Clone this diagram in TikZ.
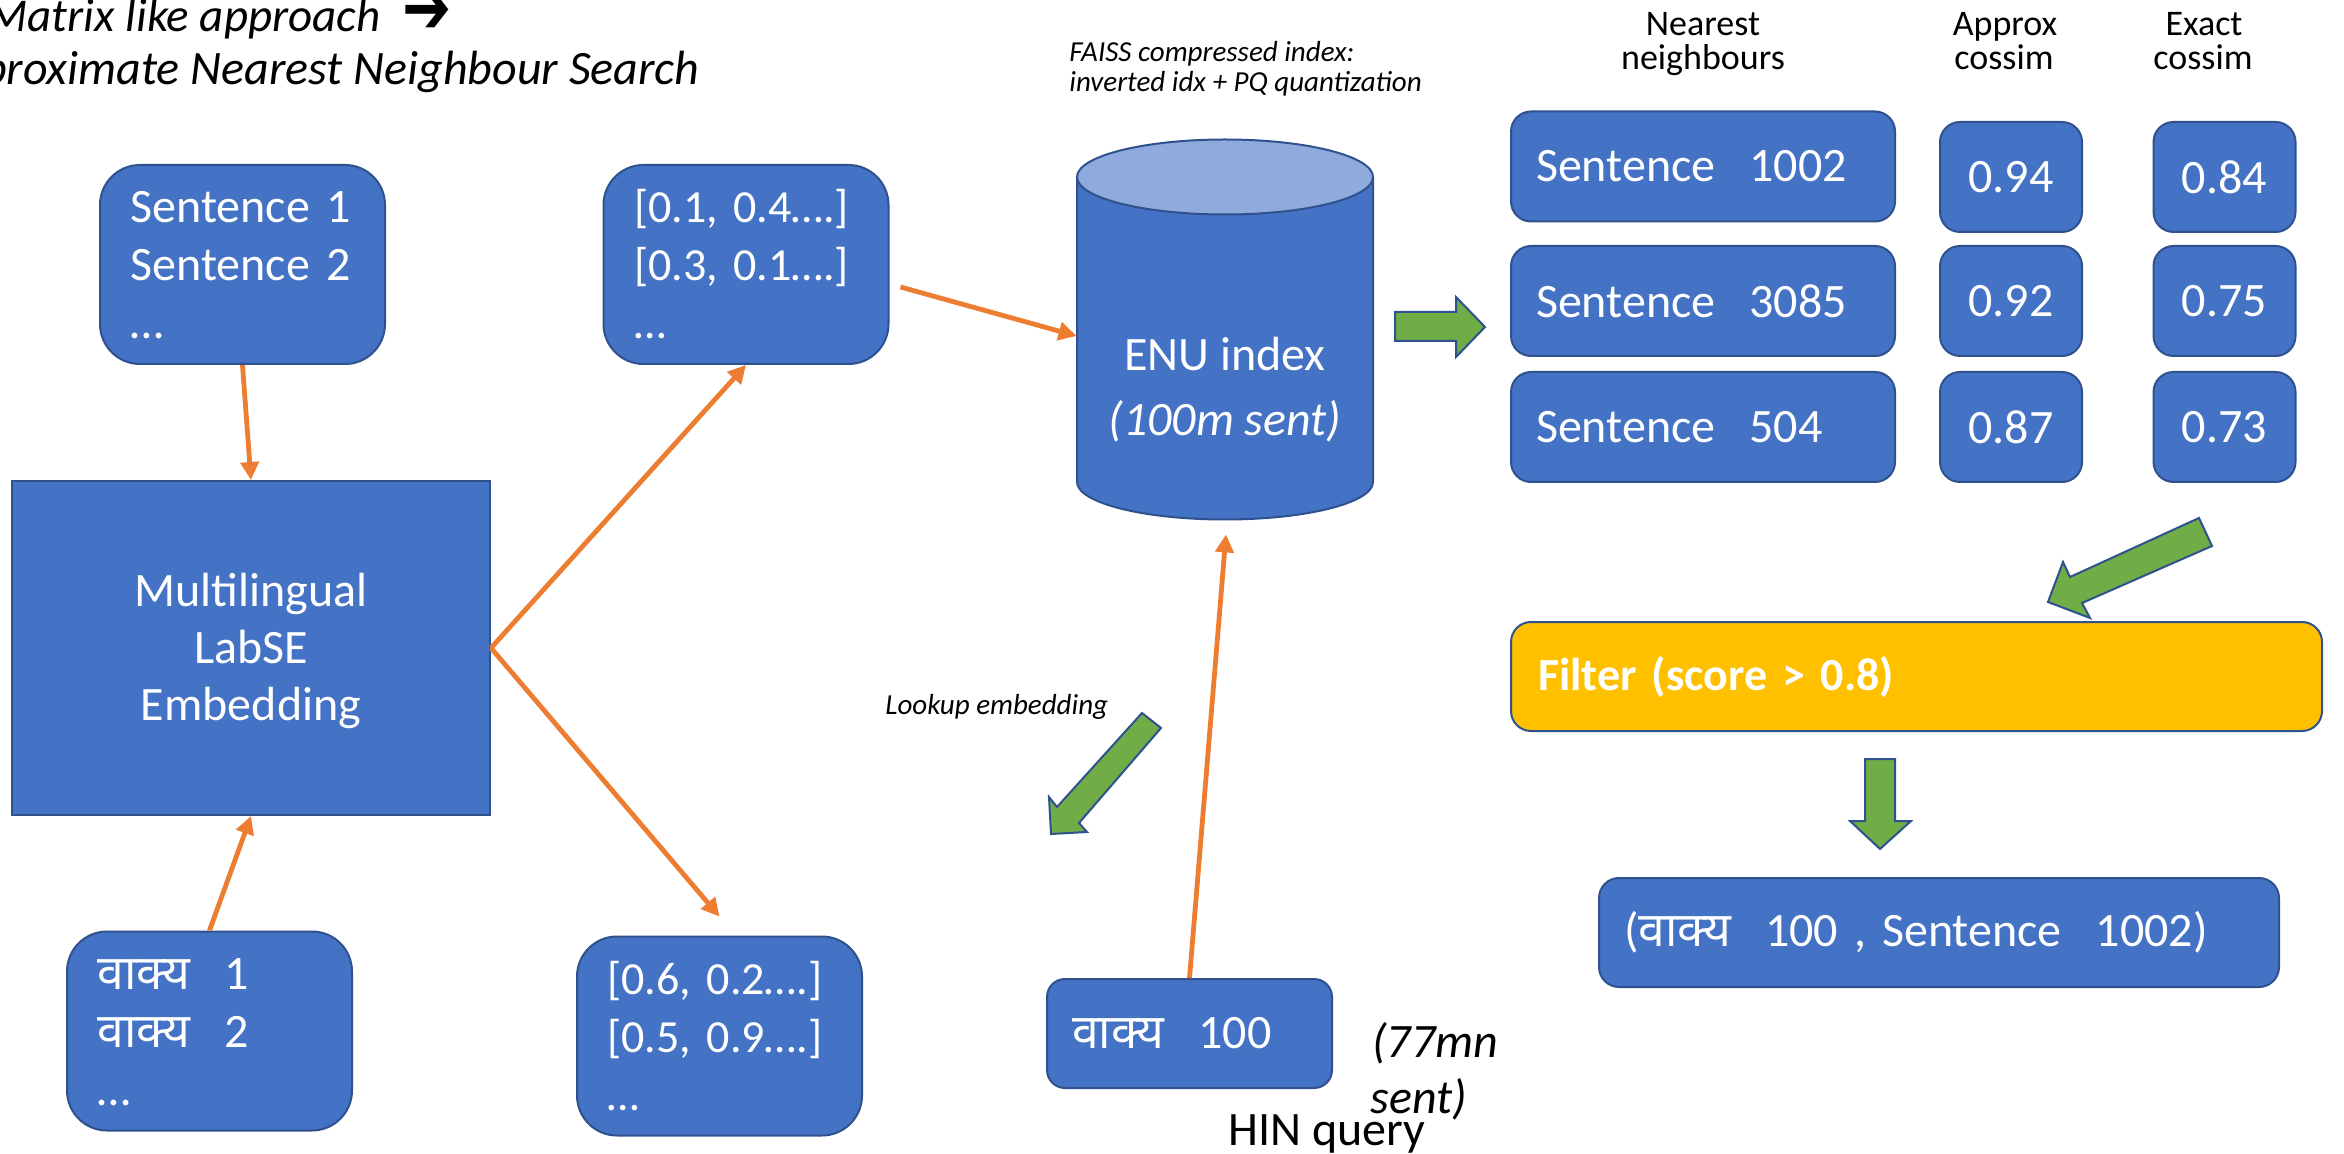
\documentclass[tikz,border=0pt]{standalone}
\usepackage{fontspec}
\setmainfont{Carlito}
\newfontfamily\devfont[Script=Devanagari]{Noto Sans}
\newfontfamily\symfont{DejaVu Sans}
\usetikzlibrary{arrows.meta,calc}

\definecolor{boxblue}{HTML}{4472C4}
\definecolor{boxedge}{HTML}{2F528F}
\definecolor{orangeline}{HTML}{ED7D31}
\definecolor{arrowgreen}{HTML}{70AD47}
\definecolor{filtergold}{HTML}{FFC000}
\definecolor{cyltop}{HTML}{8FAADC}

\newcommand\fsmain{\fontsize{24pt}{29pt}\selectfont}
\newcommand\fsnote{\fontsize{14.5pt}{17pt}\selectfont}
\newcommand\fshead{\fontsize{18pt}{21.5pt}\selectfont}
\newcommand\vakya{{\devfont वाक्य}}
\newcommand\gap{\hspace{17pt}}
% fixed line extents so that three-line lists sit at the same height in every box
\newcommand\topstrut{\rule{0pt}{18.5pt}}
\newcommand\botstrut{\rule[-2pt]{0pt}{2pt}}

\begin{document}
\begin{tikzpicture}[x=0.5pt,y=-0.5pt,
  bluebox/.style={draw=boxedge, fill=boxblue, line width=1pt, text=white,
    font=\fsmain, inner sep=0pt},
  listbox/.style={bluebox, rounded corners=20pt, minimum width=142.5pt,
    minimum height=99.5pt, text width=112pt, align=left},
  rowbox/.style={bluebox, rounded corners=10pt, minimum width=192pt,
    minimum height=55pt, text width=167pt, align=left},
  scorebox/.style={bluebox, rounded corners=10pt, minimum width=71pt,
    minimum height=55pt, align=center},
  orangeconn/.style={draw=orangeline, line width=2.4pt,
    -{Triangle[length=9pt,width=9pt]}},
  blockarrow/.style={fill=arrowgreen, draw=boxedge, line width=1pt, line join=miter},
  plainlabel/.style={inner sep=0pt, text=black},
]
\useasboundingbox (0,0) rectangle (2344,1154);
\clip (0,0) rectangle (2344,1154);
\fill[white] (0,0) rectangle (2344,1154);

% heading
\node[plainlabel, anchor=base east, font=\fontsize{23.5pt}{29pt}\selectfont\itshape] (title1) at (381,32) {Matrix like approach};
\node[plainlabel, anchor=south west, font=\fontsize{28pt}{29pt}\symfont] (titlearrow) at (402,34) {\scalebox{1.05}[1.35]{➔}};
\node[plainlabel, anchor=base east, font=\fsmain\itshape] (title2) at (700,85) {proximate Nearest Neighbour Search};

% input sentences, encoder and embeddings
\node[listbox] (sent) at (242.5,264.5) {\topstrut Sentence 1\\Sentence 2\\…\botstrut};
\node[bluebox, minimum width=239pt, minimum height=167pt, align=center,
      font=\fontsize{24pt}{28.5pt}\selectfont] (ml) at (251,648)
      {\rule{0pt}{20.5pt}Multilingual\\LabSE\\Embedding\rule[-5.5pt]{0pt}{5.5pt}};
\node[listbox] (vakya) at (209.5,1031) {\topstrut\vakya\gap 1\\\vakya\gap 2\\…\botstrut};
\node[listbox, font=\fontsize{23pt}{29pt}\selectfont] (vec1) at (746,264.5)
      {\topstrut\mbox{[0.1, 0.4….]}\\\mbox{[0.3, 0.1….]}\\…\botstrut};
\node[listbox, font=\fontsize{23pt}{29pt}\selectfont] (vec2) at (719.5,1036)
      {\topstrut\mbox{[0.6, 0.2….]}\\\mbox{[0.5, 0.9….]}\\…\botstrut};

% index cylinder
\fill[boxblue] (1077,177) -- (1077,482)
  arc[start angle=180, end angle=360, x radius=74pt, y radius=18.75pt] -- (1373,177) -- cycle;
\draw[boxedge, line width=1pt] (1077,177) -- (1077,482)
  arc[start angle=180, end angle=360, x radius=74pt, y radius=18.75pt] -- (1373,177);
\draw[fill=cyltop, draw=boxedge, line width=1pt] (1225,177) ellipse[x radius=74pt, y radius=18.75pt];
\node[inner sep=0pt, minimum width=148pt, minimum height=190pt] (enu) at (1225,330) {};
\node[plainlabel, text=white, align=center, font=\fontsize{24pt}{32.5pt}\selectfont] (enutext) at (1225,390)
  {ENU index\\\textit{(100m sent)}};
\node[plainlabel, anchor=base west, font=\fsnote\itshape] (faiss1) at (1069,62) {FAISS compressed index:};
\node[plainlabel, anchor=base west, font=\fsnote\itshape] (faiss2) at (1069,92) {inverted idx + PQ quantization};

% query
\node[bluebox, rounded corners=9pt, minimum width=142.5pt, minimum height=54.5pt,
      text width=117.5pt, align=left] (q100) at (1189.5,1033.5) {\vakya\gap 100};
\node[plainlabel, anchor=base west, font=\fsmain\itshape] (mn1) at (1372,1057) {(77mn};
\node[plainlabel, anchor=base west, font=\fsmain\itshape] (mn2) at (1370,1113) {sent)};
\node[plainlabel, anchor=base west, font=\fsmain] (hin) at (1228,1145) {HIN query};
\node[plainlabel, anchor=west, font=\fsnote\itshape] (lookup) at (885,707) {Lookup embedding};

% neighbour table
\node[plainlabel, anchor=base, font=\fshead] (hn1) at (1703,36) {Nearest};
\node[plainlabel, anchor=base, font=\fshead] (hn2) at (1703,70) {neighbours};
\node[plainlabel, anchor=base, font=\fshead] (ha1) at (2005,36) {Approx};
\node[plainlabel, anchor=base, font=\fshead] (ha2) at (2004,70) {cossim};
\node[plainlabel, anchor=base, font=\fshead] (he1) at (2204,36) {Exact};
\node[plainlabel, anchor=base, font=\fshead] (he2) at (2203,70) {cossim};

\node[rowbox] (s1002) at (1703,166.5) {Sentence\gap 1002};
\node[rowbox] (s3085) at (1703,301) {Sentence\gap 3085};
\node[rowbox] (s504) at (1703,427) {Sentence\gap 504};
\node[scorebox] (a1) at (2011,177) {0.94};
\node[scorebox] (a2) at (2011,301) {0.92};
\node[scorebox] (a3) at (2011,427) {0.87};
\node[scorebox] (e1) at (2224.5,177) {0.84};
\node[scorebox] (e2) at (2224.5,301) {0.75};
\node[scorebox] (e3) at (2224.5,427) {0.73};

% filter and result
\node[bluebox, fill=filtergold, rounded corners=10pt, minimum width=405.5pt, minimum height=54.5pt,
      text width=378.5pt, align=left, font=\fontsize{23pt}{28pt}\selectfont\bfseries] (filter) at (1916.5,676.5) {Filter (score > 0.8)};
\node[bluebox, rounded corners=10pt, minimum width=340pt, minimum height=54.5pt,
      text width=315pt, align=left] (result) at (1939,932.5)
      {(\vakya\gap 100 , Sentence\gap 1002)};

% connectors
\coordinate (vec2in) at ($(vec2.north)+(0,-19)$);
\coordinate (vec1out) at ($(vec1.east)+(11,22.5)$);
\coordinate (enuin) at ($(enu.west)+(0,6)$);
\coordinate (enubottom) at ($(enu.south)+(1,14)$);
\draw[orangeconn] (sent.south) -- (ml.north);
\draw[orangeconn] (vakya.north) -- (ml.south);
\draw[orangeconn] (ml.east) -- (vec1.south);
\draw[orangeconn] (ml.east) -- (vec2in);
\draw[orangeconn] (vec1out) -- (enuin);
\draw[orangeconn] (q100.north) -- (enubottom);

% block arrows
\draw[blockarrow] (1395,312) -- (1456,312) -- (1456,297) -- (1485,327) -- (1456,357) -- (1456,341) -- (1395,341) -- cycle;
\draw[blockarrow] (1865,759) -- (1895,759) -- (1895,821) -- (1911,821) -- (1880,849) -- (1850,821) -- (1865,821) -- cycle;
\draw[blockarrow] (1142,713) -- (1057,807) -- (1049,797) -- (1051,834) -- (1087,832) -- (1079,823) -- (1161,728) -- cycle;
\draw[blockarrow] (2199,518) -- (2070,577) -- (2063,562) -- (2048,602) -- (2090,618) -- (2082,603) -- (2212,546) -- cycle;
\end{tikzpicture}
\end{document}
